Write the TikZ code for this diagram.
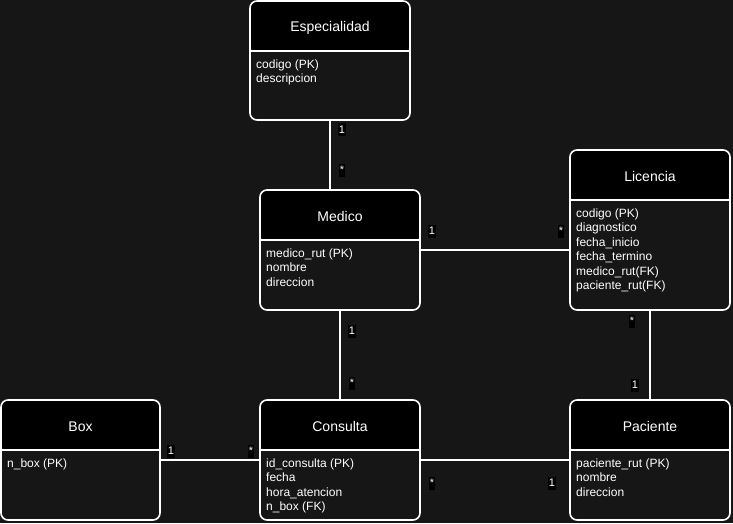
\documentclass[tikz,border=0pt]{standalone}
\usepackage{fontspec}
\setmainfont{Liberation Sans}
\definecolor{canvas}{RGB}{22,22,22}
\begin{document}
\begin{tikzpicture}[x=1pt,y=-1pt,
  entbox/.style={draw=white, line width=1.6pt, fill=canvas, rounded corners=7pt,
    inner sep=0pt, outer sep=0pt, anchor=north west,
    path picture={\fill[black] (path picture bounding box.north west)
      rectangle ([yshift=-50pt]path picture bounding box.north east);}},
  enttitle/.style={text=white, font=\fontsize{14}{16}\selectfont},
  entattr/.style={text=white, anchor=north west, align=left, inner sep=0pt,
    font=\fontsize{12}{14.4}\selectfont},
  link/.style={draw=white, line width=1.2pt},
  mult/.style={fill=black, text=white, inner sep=0.5pt, minimum width=6pt,
    minimum height=13pt, font=\fontsize{11}{12}\selectfont}]
  % canvas
  \fill[canvas] (0,0) rectangle (733,523);
  \useasboundingbox (0,0) rectangle (733,523);

  % entity: name, x, y, width, height, title, attributes
  \newcommand\erentity[7]{%
    \node[entbox, minimum width=#4, minimum height=#5] (#1) at (#2,#3) {};
    \draw[white, line width=1.6pt] ([yshift=-50pt]#1.north west) -- ([yshift=-50pt]#1.north east);
    \node[enttitle] at ([yshift=-26.5pt]#1.north) {#6};
    \node[entattr] at ([xshift=6pt,yshift=-58.5pt]#1.north west) {#7};
  }

  \erentity{esp}{250}{1}{160}{119}{Especialidad}{codigo (PK)\\descripcion}
  \erentity{med}{260}{190}{160}{120}{Medico}{medico\_rut (PK)\\nombre\\direccion}
  \erentity{lic}{570}{150}{160}{160}{Licencia}{codigo (PK)\\diagnostico\\fecha\_inicio\\fecha\_termino\\medico\_rut(FK)\\paciente\_rut(FK)}
  \erentity{box}{1}{400}{159}{120}{Box}{n\_box (PK)}
  \erentity{con}{260}{400}{160}{120}{Consulta}{id\_consulta (PK)\\fecha\\hora\_atencion\\n\_box (FK)}
  \erentity{pac}{570}{400}{160}{120}{Paciente}{paciente\_rut (PK)\\nombre\\direccion}

  % relationships
  \draw[link] (esp.south) -- (esp.south |- med.north);
  \draw[link] (med.east) -- (med.east -| lic.west);
  \draw[link] (med.south) -- (con.north);
  \draw[link] (lic.south) -- (pac.north);
  \draw[link] (box.east) -- (con.west);
  \draw[link] (con.east) -- (pac.west);

  % multiplicities
  \node[mult] (m1) at (342,129.5) {1};
  \node[mult] (m2) at (342,170) {*};
  \node[mult] (m3) at (432,231) {1};
  \node[mult] (m4) at (561,231) {*};
  \node[mult] (m5) at (352,331) {1};
  \node[mult] (m6) at (352,383) {*};
  \node[mult] (m7) at (632,321) {*};
  \node[mult] (m8) at (635,385) {1};
  \node[mult] (m9) at (171,451) {1};
  \node[mult] (m10) at (251,451) {*};
  \node[mult] (m11) at (432,483) {*};
  \node[mult] (m12) at (552,483) {1};
\end{tikzpicture}
\end{document}
